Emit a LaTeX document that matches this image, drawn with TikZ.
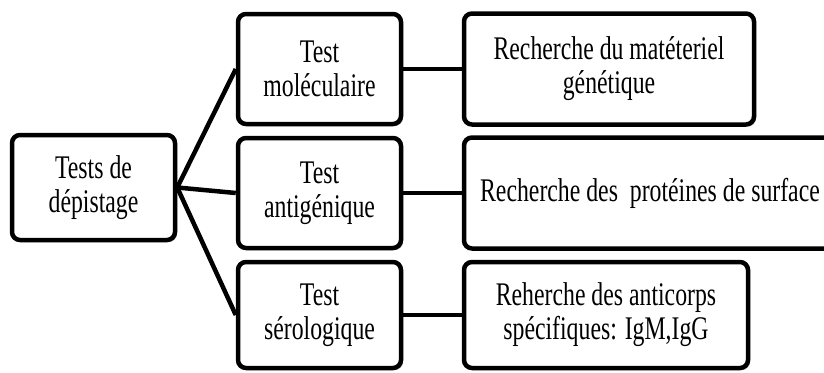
\documentclass[tikz,border=0pt]{standalone}
\usepackage{fontspec}
\setmainfont{Liberation Serif}[FakeStretch=0.72]
\usetikzlibrary{positioning, shadows}
\tikzstyle{block}=[draw,fill=white,rectangle,line width=4.5pt,rounded corners=8pt,
  align=center,inner sep=0pt,
  drop shadow={fill=black!50,opacity=.5,shadow xshift=2pt,shadow yshift=-2pt}]
\tikzstyle{every node}=[font=\fontsize{33}{34}\selectfont]
\tikzstyle{link}=[line width=4.5pt]

\begin{document}
\begin{tikzpicture}[x=1pt,y=1pt, node distance=58.5pt]
    \useasboundingbox (0,0) rectangle (824,-372);
    \node[block, minimum width=163pt, minimum height=105pt] at (93.5,-187.5) (root) {Tests de\\dépistage};
    \node[block, minimum width=163pt, minimum height=110pt, right=of root, yshift=-5.5pt] (antigen) {Test\\antigénique};
    \node[block, minimum width=163pt, minimum height=110pt, above=9.5pt of antigen] (molec) {Test\\moléculaire};
    \node[block, minimum width=163pt, minimum height=106pt, below=9.5pt of antigen] (sero) {Test\\sérologique};
    \node[block, minimum width=290pt, minimum height=111pt, right=of molec] (genet) {Recherche du matéteriel\\génétique};
    \node[block, minimum width=372pt, minimum height=111pt, right=of antigen] (prot) {Recherche des~~protéines de surface};
    \node[block, minimum width=284pt, minimum height=106pt, right=of sero] (anticorps) {Reherche des anticorps\\spécifiques: IgM,IgG};
    \draw[link] (root.east) -- (molec.west);
    \draw[link] (root.east) -- (antigen.west);
    \draw[link] (root.east) -- (sero.west);
    \draw[link] (molec) -- (genet);
    \draw[link] (antigen) -- (prot);
    \draw[link] (sero) -- (anticorps);
\end{tikzpicture}
\end{document}
